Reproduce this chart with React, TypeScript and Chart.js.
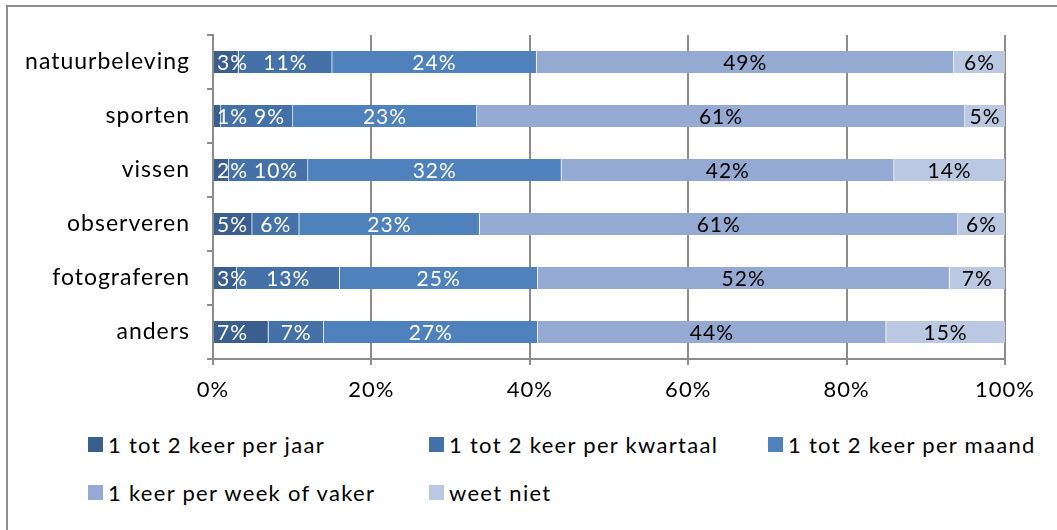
import React, { useEffect, useRef } from "react";
import { Chart, registerables } from "chart.js";

Chart.register(...registerables);

const categories = ["natuurbeleving", "sporten", "vissen", "observeren", "fotograferen", "anders"];
const seriesNames = [
  "1 tot 2 keer per jaar",
  "1 tot 2 keer per kwartaal",
  "1 tot 2 keer per maand",
  "1 keer per week of vaker",
  "weet niet",
];
const perJaar = [3, 1, 2, 5, 3, 7];
const perKwartaal = [11, 9, 10, 6, 13, 7];
const perMaand = [24, 23, 32, 23, 25, 27];
const perWeek = [49, 61, 42, 61, 52, 44];
const weetNiet = [6, 5, 14, 6, 7, 15];
const xTicks = [0, 20, 40, 60, 80, 100];

const colors = ["#3A5F8E", "#4471A8", "#4F81BD", "#94AAD2", "#BAC8E1"];
const labelColors = ["#ffffff", "#ffffff", "#ffffff", "#000000", "#000000"];
const FONT = "Lato, 'Open Sans', sans-serif";

const rawSeries = [perJaar, perKwartaal, perMaand, perWeek, weetNiet];

export default function App() {
  const ref = useRef<HTMLCanvasElement | null>(null);

  useEffect(() => {
    const canvas = ref.current;
    if (!canvas) return;
    const totals = categories.map((_, i) => rawSeries.reduce((s, arr) => s + arr[i], 0));

    const spacingPlugin = {
      id: "spacing",
      beforeUpdate(chart: any) {
        chart.ctx.letterSpacing = "1px";
      },
      beforeDraw(chart: any) {
        chart.ctx.letterSpacing = "1px";
      },
    };

    const labelPlugin = {
      id: "segLabels",
      afterDatasetsDraw(chart: any) {
        const ctx = chart.ctx;
        ctx.save();
        ctx.letterSpacing = "1px";
        ctx.font = `21px ${FONT}`;
        ctx.textBaseline = "middle";
        const firstRight: number[] = [];
        chart.data.datasets.forEach((ds: any, di: number) => {
          const meta = chart.getDatasetMeta(di);
          meta.data.forEach((el: any, idx: number) => {
            const text = rawSeries[di][idx] + "%";
            const w = ctx.measureText(text).width;
            ctx.fillStyle = labelColors[di];
            ctx.textAlign = "left";
            let left: number;
            if (di === 0) {
              left = chart.chartArea.left + 4;
              firstRight[idx] = left + w;
            } else {
              left = (el.x + el.base) / 2 - w / 2;
              if (di === 1 && left < firstRight[idx] + 6) left = firstRight[idx] + 6;
            }
            ctx.fillText(text, left, el.y + 1);
          });
        });
        ctx.restore();
      },
    };

    const chart = new Chart(canvas, {
      type: "bar",
      data: {
        labels: categories,
        datasets: rawSeries.map((arr, di) => ({
          label: seriesNames[di],
          data: arr.map((v, i) => (v / totals[i]) * 100),
          backgroundColor: colors[di],
          borderColor: "rgba(255,255,255,0.55)",
          borderWidth: { top: 0, bottom: 0, left: 0, right: 1 },
          borderSkipped: false,
          barThickness: 22,
        })),
      },
      options: {
        indexAxis: "y",
        animation: false,
        responsive: false,
        maintainAspectRatio: false,
        devicePixelRatio: 1,
        layout: { padding: { top: 35, right: 52, left: 0, bottom: 0 } },
        plugins: {
          legend: { display: false },
          tooltip: { enabled: false },
        },
        scales: {
          x: {
            type: "linear",
            stacked: true,
            min: 0,
            max: 100,
            afterFit: (s: any) => {
              s.height = 61;
            },
            afterBuildTicks: (s: any) => {
              s.ticks = xTicks.map((v) => ({ value: v }));
            },
            ticks: {
              callback: (v: any) => v + "%",
              font: { family: FONT, size: 22 },
              color: "#000",
              padding: 12,
              maxRotation: 0,
            },
            grid: { color: "#8c8c8c", lineWidth: 2, tickLength: 6 },
            border: { color: "#8c8c8c", width: 2 },
          },
          y: {
            type: "category",
            stacked: true,
            afterFit: (s: any) => {
              s.width = 213;
            },
            ticks: {
              font: { family: FONT, size: 23 },
              color: "#000",
              padding: 17,
            },
            grid: { offset: true, drawOnChartArea: false, color: "#8c8c8c", lineWidth: 2, tickLength: 6 },
            border: { color: "#8c8c8c", width: 2 },
          },
        },
      },
      plugins: [spacingPlugin, labelPlugin],
    } as any);
    return () => chart.destroy();
  }, []);

  const legendCols = [88, 429, 768];
  const legendRows = [444, 492];
  const legendItems = seriesNames.map((name, i) => ({
    name,
    color: colors[i],
    left: legendCols[i % 3],
    top: legendRows[Math.floor(i / 3)],
  }));

  return (
    <div style={{ position: "fixed", left: 0, top: 0, width: 1057, height: 530, background: "#fff", overflow: "hidden" }}>
      <div
        style={{
          position: "absolute",
          left: 6,
          top: 5,
          width: 1100,
          height: 600,
          borderLeft: "2px solid #8e8e8e",
          borderTop: "2px solid #8e8e8e",
        }}
      />
      <canvas ref={ref} width={1057} height={420} style={{ position: "absolute", left: 0, top: 0, width: 1057, height: 420 }} />
      {legendItems.map((it) => (
        <div
          key={it.name}
          style={{
            position: "absolute",
            left: it.left,
            top: it.top - 14,
            height: 28,
            display: "flex",
            alignItems: "center",
            fontFamily: FONT,
            fontSize: 22,
            letterSpacing: "1.3px",
            color: "#000",
            whiteSpace: "nowrap",
          }}
        >
          <span style={{ display: "inline-block", width: 15, height: 15, background: it.color, marginRight: 5 }} />
          <span>{it.name}</span>
        </div>
      ))}
    </div>
  );
}
